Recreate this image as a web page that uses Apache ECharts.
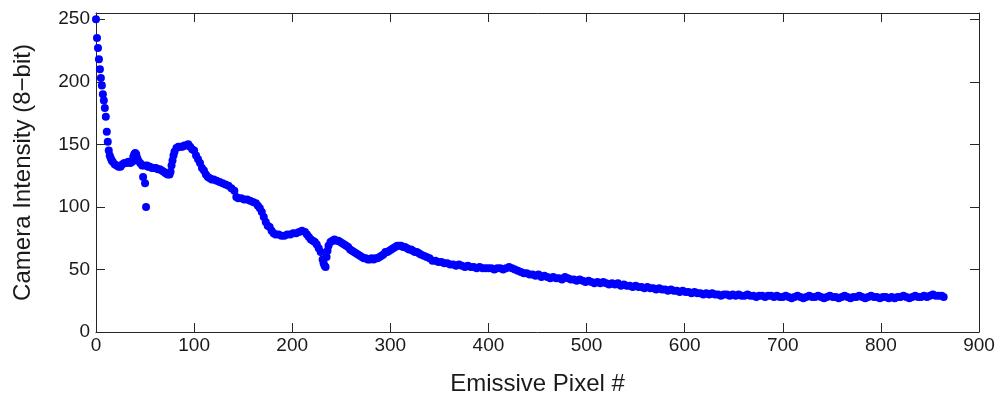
<!DOCTYPE html>
<html>
<head>
<meta charset="utf-8">
<script src="https://cdn.jsdelivr.net/npm/echarts/dist/echarts.min.js"></script>
<style>
html,body{margin:0;padding:0;background:#fff;}
#chart{width:1006px;height:396px;}
</style>
</head>
<body>
<div id="chart"></div>
<script>
var xTitle = 'Emissive Pixel #';
var yTitle = 'Camera Intensity (8\u2212bit)';
var xTicks = [0,100,200,300,400,500,600,700,800,900];
var yTicks = [0,50,100,150,200,250];

var pixelIdx = [
0,1,2,3,4,5,6,7,8,9,10,11,12,13,14,15,16,17,19,21,23,25,27,29,31,33,35,37,38,39,40,41,42,43,45,47,48,49,50,51,52,53,55,57,59,61,63,65,67,69,71,73,75,76,77,78,79,80,82,84,86,88,90,92,94,96,98,100,
102,104,106,108,110,112,114,116,118,120,123,126,129,132,135,138,141,143,145,148,151,154,157,160,163,165,167,169,171,173,175,177,179,181,183,186,189,192,195,198,201,204,207,210,213,215,217,219,221,223,225,227,229,231,232,233,234,235,236,237,239,241,243,245,247,249,251,253,255,257,259,261,263,265,267,269,271,273,275,277,279,281,283,285,287,289,291,293,295,297,299,301,303,305,307,309,311,313,315,317,319,321,323,325,327,329,331,334,337,340,343,346,349,352,355,358,361,364,367,370,373,376,379,382,385,388,391,394,397,400,
403,406,409,412,415,418,421,424,427,430,433,436,439,442,445,448,451,454,457,460,463,466,469,472,475,478,481,484,487,490,493,496,499,502,505,508,511,514,517,520,523,526,529,532,535,538,541,544,547,550,553,556,559,562,565,568,571,574,577,580,583,586,589,592,595,598,601,604,607,610,613,616,619,622,625,628,631,634,637,640,643,646,649,652,655,658,661,664,667,670,673,676,679,682,685,688,691,694,697,700,
703,706,709,712,715,718,721,724,727,730,733,736,739,742,745,748,751,754,757,760,763,766,769,772,775,778,781,784,787,790,793,796,799,802,805,808,811,814,817,820,823,826,829,832,835,838,841,844,847,850,853,856,859,862,864
];
var intensity = [
250,235,227,218,210,203,197,190,185,179,172,160,152,145,141,139,137,136,134,133,132,132,134,135,135,136,135,136,140,142,143,142,139,137,135,133,124,133,119,100,133,132,132,131,131,131,130,130,129,128,127,126,126,128,133,137,141,144,147,148,148,148,149,149,150,148,146,145,
141,138,135,131,129,126,124,123,122,122,121,120,119,118,117,115,113,108,107,107,106,106,105,104,103,101,99,96,92,88,85,84,81,79,78,78,77,77,78,78,79,79,80,81,80,78,76,74,73,72,70,67,64,58,55,53,52,60,65,69,72,73,74,73,73,72,71,70,69,68,66,65,64,63,62,61,60,59,59,58,58,59,58,59,59,60,61,62,64,64,65,66,67,68,69,69,69,68,68,67,66,66,65,64,64,63,62,61,60,59,57,57,56,56,55,55,54,54,53,54,53,52,53,52,52,51,52,51,51,51,
51,50,51,51,50,51,52,51,50,49,48,47,47,46,46,45,46,44,45,44,43,44,43,43,42,44,43,42,42,41,42,41,40,41,40,39,40,39,40,39,38,39,38,39,37,38,37,37,36,37,36,36,35,36,35,35,34,35,34,34,33,34,33,33,32,33,32,32,31,32,31,31,30,31,30,31,30,30,29,30,30,29,30,29,30,29,29,30,29,29,28,29,29,28,29,29,28,29,28,28,
29,28,27,28,29,28,27,28,29,28,28,29,28,27,28,29,28,28,27,28,29,28,27,28,28,29,28,27,28,29,28,28,27,28,28,27,28,27,28,28,29,28,27,28,29,28,28,29,28,29,30,29,29,29,28
];

var points = pixelIdx.map(function(x, i){ return [x, intensity[i]]; });

var axisColor = '#262626';
var labelColor = '#1a1a1a';
var fontFam = '"Liberation Sans", Arial, Helvetica, sans-serif';

var chart = echarts.init(document.getElementById('chart'), null, {renderer: 'canvas'});
chart.setOption({
  animation: false,
  backgroundColor: '#ffffff',
  grid: {left: 96, right: 27, top: 13, bottom: 64, containLabel: false, outerBoundsMode: 'none'},
  xAxis: [{
    type: 'value', position: 'bottom', min: 0, max: 900, interval: 100,
    name: xTitle, nameLocation: 'middle', nameGap: 40,
    nameTextStyle: {color: labelColor, fontSize: 24, fontFamily: fontFam},
    axisLine: {show: true, onZero: false, lineStyle: {color: axisColor, width: 1}},
    axisTick: {show: true, inside: true, length: 9, lineStyle: {color: axisColor}},
    axisLabel: {color: labelColor, fontSize: 19, fontFamily: fontFam, margin: 4, showMaxLabel: true, showMinLabel: true},
    splitLine: {show: false}
  }, {
    type: 'value', position: 'top', min: 0, max: 900, interval: 100,
    axisLine: {show: true, onZero: false, lineStyle: {color: axisColor, width: 1}},
    axisTick: {show: true, inside: true, length: 9, lineStyle: {color: axisColor}},
    axisLabel: {show: false},
    splitLine: {show: false}
  }],
  yAxis: [{
    type: 'value', position: 'left', min: 0, max: 255,
    name: yTitle, nameLocation: 'middle', nameGap: 61,
    nameTextStyle: {color: labelColor, fontSize: 24, fontFamily: fontFam},
    axisLine: {show: true, onZero: false, lineStyle: {color: axisColor, width: 1}},
    axisTick: {show: true, inside: true, length: 9, lineStyle: {color: axisColor}, customValues: yTicks},
    axisLabel: {color: labelColor, fontSize: 19, fontFamily: fontFam, margin: 6, customValues: yTicks},
    splitLine: {show: false}
  }, {
    type: 'value', position: 'right', min: 0, max: 255,
    axisLine: {show: true, onZero: false, lineStyle: {color: axisColor, width: 1}},
    axisTick: {show: true, inside: true, length: 9, lineStyle: {color: axisColor}, customValues: yTicks},
    axisLabel: {show: false},
    splitLine: {show: false}
  }],
  series: [{
    type: 'scatter',
    xAxisIndex: 0, yAxisIndex: 0,
    data: points,
    symbol: 'circle',
    symbolSize: 8,
    itemStyle: {color: '#0000ff', opacity: 1},
    emphasis: {disabled: true}
  }]
});
</script>
</body>
</html>
